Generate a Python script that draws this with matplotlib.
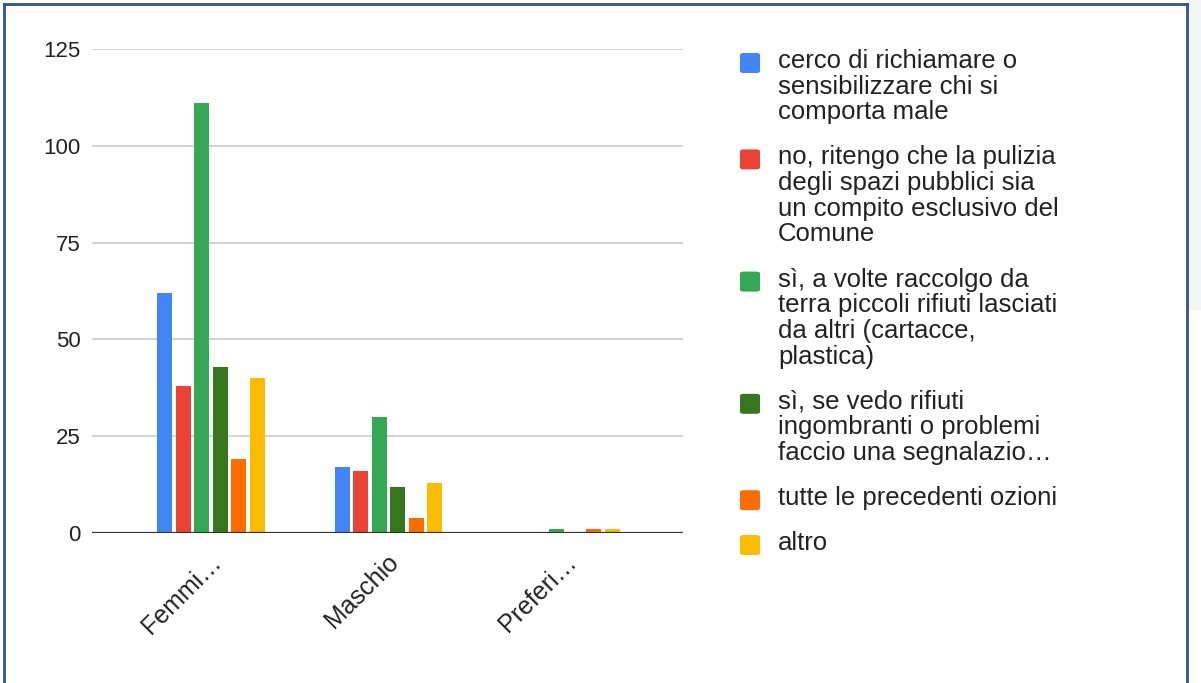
import numpy as np
import matplotlib.pyplot as plt
from matplotlib.patches import Rectangle, FancyBboxPatch
from matplotlib.lines import Line2D
import matplotlib.transforms as mtransforms

plt.rcParams['font.family'] = ['Liberation Sans', 'DejaVu Sans']

categories = ['Femmi…', 'Maschio', 'Preferi…']
series_names = [
    'cerco di richiamare o\nsensibilizzare chi si\ncomporta male',
    'no, ritengo che la pulizia\ndegli spazi pubblici sia\nun compito esclusivo del\nComune',
    'sì, a volte raccolgo da\nterra piccoli rifiuti lasciati\nda altri (cartacce,\nplastica)',
    'sì, se vedo rifiuti\ningombranti o problemi\nfaccio una segnalazio…',
    'tutte le precedenti ozioni',
    'altro',
]
richiamare = [62, 17, 0]
no_comune = [38, 16, 0]
raccolgo = [111, 30, 1]
segnalazione = [43, 12, 0]
tutte = [19, 4, 1]
altro = [40, 13, 1]
values = [richiamare, no_comune, raccolgo, segnalazione, tutte, altro]
colors = ['#4285F4', '#EA4335', '#34A853', '#38761D', '#FF6D01', '#FBBC04']
yticks = [0, 25, 50, 75, 100, 125]

fig = plt.figure(figsize=(12.01, 6.83), dpi=100)
ax = fig.add_axes([0.0766, 0.2196, 0.4921, 0.7087])

x = np.arange(len(categories))
step = 0.104
width = 0.084
for i, (vals, col) in enumerate(zip(values, colors)):
    ax.bar(x + (i - 2.5) * step, vals, width, color=col, zorder=3)

ax.set_xlim(-0.670, 2.659)
ax.set_ylim(0, 125)
ax.set_yticks(yticks)
ax.set_yticklabels([str(t) for t in yticks], fontsize=16, color='#222222')
ax.yaxis.grid(True, color='#cccccc', linewidth=1.2, zorder=0)
ax.axhline(0, color='#333333', linewidth=1.6, zorder=4)
for s in ax.spines.values():
    s.set_visible(False)
ax.tick_params(axis='y', length=0, pad=8)
ax.tick_params(axis='x', length=0, pad=12)
ax.set_xticks(x)
ax.set_xticklabels(categories, fontsize=18, color='#222222', rotation=45,
                   ha='right', va='top', rotation_mode='anchor')
offset = mtransforms.ScaledTranslation(-2 / 100, 0, fig.dpi_scale_trans)
for lbl in ax.get_xticklabels():
    lbl.set_transform(lbl.get_transform() + offset)

# legend drawn by hand so the swatch sits by the first line
W, H = 1201, 683
y_px = 52
line_h = 25.8
gap = 19
for name, col in zip(series_names, colors):
    n = name.count('\n') + 1
    fig.patches.append(FancyBboxPatch((740 / W, 1 - (y_px + 21) / H), 20 / W, 20 / H,
                                      boxstyle='round,pad=0,rounding_size=0.003',
                                      transform=fig.transFigure, facecolor=col,
                                      edgecolor='none'))
    fig.text(778 / W, 1 - (y_px - 3) / H, name, fontsize=18.5, color='#222222',
             va='top', ha='left', linespacing=1.088)
    y_px += n * line_h + gap

# page frame around the chart
fig.patches.append(Rectangle((1188 / W, 1 - 310 / H), 13 / W, 310 / H,
                             transform=fig.transFigure, facecolor='#f1f7f4',
                             edgecolor='none'))
frame = '#2d5592'
fig.lines.append(Line2D([3.5 / W, 3.5 / W], [0, 1 - 3.5 / H], transform=fig.transFigure,
                        color=frame, linewidth=2))
fig.lines.append(Line2D([3.5 / W, 1186.5 / W], [1 - 3.5 / H, 1 - 3.5 / H],
                        transform=fig.transFigure, color=frame, linewidth=2))
fig.lines.append(Line2D([1186.5 / W, 1186.5 / W], [0, 1 - 3.5 / H],
                        transform=fig.transFigure, color=frame, linewidth=2))

fig.savefig('out.png', dpi=100)
